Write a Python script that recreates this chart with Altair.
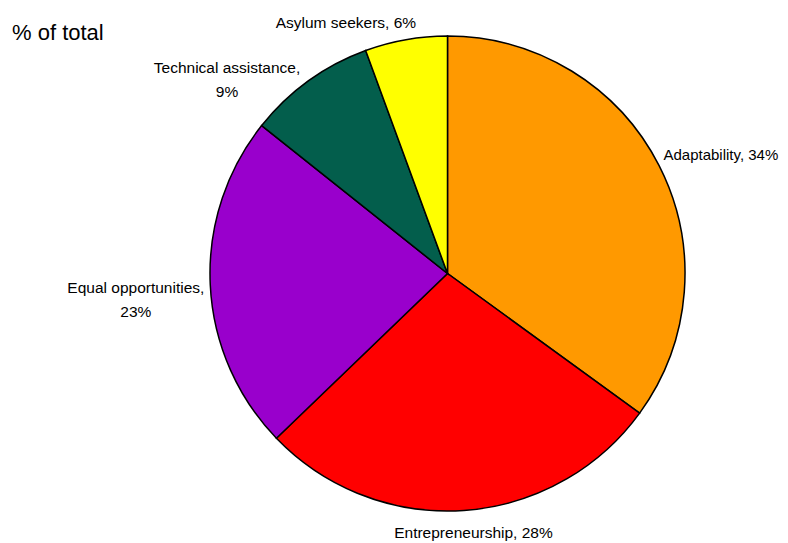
import altair as alt
import pandas as pd

categories = ["Adaptability", "Entrepreneurship", "Equal opportunities", "Technical assistance", "Asylum seekers"]
values = [35.0, 27.8, 22.9, 8.7, 5.6]
labels = ["Adaptability, 34%", "Entrepreneurship, 28%", "Equal opportunities,\n23%", "Technical assistance,\n9%", "Asylum seekers, 6%"]
colors = ["#FF9900", "#FF0000", "#9900CC", "#035E4C", "#FFFF00"]

df = pd.DataFrame({"category": categories, "value": values, "label": labels, "idx": list(range(len(values)))})

W, H = 772, 535
CX, CY, R = 439.5, 265.5, 237.5
FONT = "Liberation Sans, Arial, sans-serif"

base = alt.Chart(df)

pie = base.mark_arc(stroke="black", strokeWidth=1.5, radius=R).encode(
    theta=alt.Theta("value:Q", stack=True),
    color=alt.Color("category:N", scale=alt.Scale(domain=categories, range=colors), legend=None),
    order=alt.Order("idx:Q"),
    x=alt.value(CX),
    y=alt.value(CY),
)

# label style: radius from centre, alignment, size and nudges
label_style = {
    "Adaptability": dict(r=248, align="left", dx=-5, dy=-6, size=15),
    "Entrepreneurship": dict(r=260, align="center", dx=8, dy=0, size=15.5),
    "Equal opportunities": dict(r=311, align="center", dx=-1, dy=0, size=15.5),
    "Technical assistance": dict(r=240, align="center", dx=-80, dy=-11, size=15.5),
    "Asylum seekers": dict(r=255, align="center", dx=-57, dy=1, size=15.5),
}

text_layers = []
for cat, st in label_style.items():
    t = (
        base.transform_joinaggregate(total="sum(value)")
        .transform_window(cum="sum(value)", sort=[alt.SortField("idx")], frame=[None, 0])
        .transform_calculate(mid="(datum.cum - datum.value / 2) / datum.total * 2 * PI")
        .transform_filter(alt.datum.category == cat)
        .transform_calculate(
            px=f"{CX} + {st['r']} * sin(datum.mid)",
            py=f"{CY} - {st['r']} * cos(datum.mid)",
        )
        .mark_text(font=FONT, fontSize=st["size"], color="black", align=st["align"], baseline="middle",
                   lineBreak="\n", lineHeight=24, dx=st["dx"], dy=st["dy"])
        .encode(
            x=alt.X("px:Q", scale=None),
            y=alt.Y("py:Q", scale=None),
            text="label:N",
        )
    )
    text_layers.append(t)

title = alt.Chart(pd.DataFrame({"t": ["% of total"]})).mark_text(
    font=FONT, fontSize=22, align="left", baseline="middle", color="black"
).encode(x=alt.value(4), y=alt.value(25), text="t:N")

chart = alt.layer(pie, *text_layers, title).properties(
    width=W, height=H, autosize=alt.AutoSizeParams(type="none"), padding=0
).configure_view(stroke=None)

chart.save("out.html", embed_options={"renderer": "svg", "actions": False})
